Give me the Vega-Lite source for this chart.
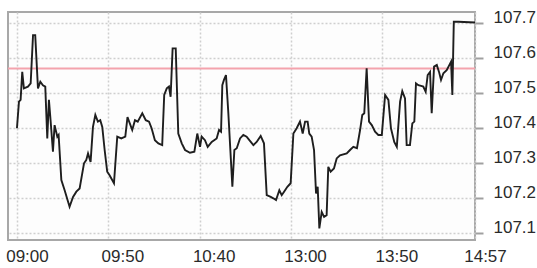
{
  "$schema": "https://vega.github.io/schema/vega-lite/v6.json",
  "width": 467,
  "height": 228,
  "autosize": {"type": "none"},
  "padding": {"left": 8, "top": 12, "right": 62, "bottom": 28},
  "background": "#ffffff",
  "config": {
    "view": {"stroke": "#a8a8a8", "strokeWidth": 2, "fill": "#fdfdfd"},
    "font": "Liberation Sans",
    "axis": {"labelOverlap": false}
  },
  "datasets": {
    "prices": [
      {"m": 0, "price": 107.398}, {"m": 1.1, "price": 107.474}, {"m": 2.0, "price": 107.479}, {"m": 2.9, "price": 107.559},
      {"m": 3.8, "price": 107.512}, {"m": 6.0, "price": 107.517}, {"m": 7.5, "price": 107.526}, {"m": 8.8, "price": 107.664},
      {"m": 10.0, "price": 107.664}, {"m": 11.5, "price": 107.512}, {"m": 12.8, "price": 107.531}, {"m": 14.2, "price": 107.521},
      {"m": 15.5, "price": 107.517}, {"m": 16.6, "price": 107.369}, {"m": 17.5, "price": 107.479}, {"m": 18.4, "price": 107.421},
      {"m": 19.7, "price": 107.331}, {"m": 20.6, "price": 107.407}, {"m": 22.1, "price": 107.374}, {"m": 22.8, "price": 107.379},
      {"m": 24.3, "price": 107.25}, {"m": 26.1, "price": 107.221}, {"m": 28.8, "price": 107.174}, {"m": 30.7, "price": 107.202},
      {"m": 32.5, "price": 107.217}, {"m": 34.3, "price": 107.226}, {"m": 36.7, "price": 107.298}, {"m": 37.9, "price": 107.307},
      {"m": 38.9, "price": 107.326}, {"m": 40.3, "price": 107.302}, {"m": 41.6, "price": 107.402}, {"m": 42.9, "price": 107.436},
      {"m": 44.3, "price": 107.417}, {"m": 45.6, "price": 107.421}, {"m": 46.7, "price": 107.402}, {"m": 48.0, "price": 107.336},
      {"m": 49.4, "price": 107.274}, {"m": 50.7, "price": 107.264}, {"m": 53.1, "price": 107.241}, {"m": 54.9, "price": 107.374},
      {"m": 57.1, "price": 107.369}, {"m": 59.3, "price": 107.374}, {"m": 60.5, "price": 107.43}, {"m": 63.1, "price": 107.393},
      {"m": 64.6, "price": 107.421}, {"m": 66.1, "price": 107.417}, {"m": 68.6, "price": 107.441}, {"m": 70.5, "price": 107.421},
      {"m": 72.3, "price": 107.417}, {"m": 73.7, "price": 107.398}, {"m": 75.5, "price": 107.364}, {"m": 77.4, "price": 107.355},
      {"m": 79.5, "price": 107.35}, {"m": 80.6, "price": 107.493}, {"m": 82.0, "price": 107.512}, {"m": 83.2, "price": 107.517},
      {"m": 84.1, "price": 107.488}, {"m": 85.2, "price": 107.626}, {"m": 86.9, "price": 107.626}, {"m": 88.3, "price": 107.383},
      {"m": 90.2, "price": 107.355}, {"m": 92.0, "price": 107.336}, {"m": 94.7, "price": 107.328}, {"m": 97.1, "price": 107.331},
      {"m": 98.7, "price": 107.383}, {"m": 100.2, "price": 107.345}, {"m": 101.1, "price": 107.374}, {"m": 102.9, "price": 107.364},
      {"m": 104.4, "price": 107.345}, {"m": 106.6, "price": 107.359}, {"m": 109.3, "price": 107.369}, {"m": 110.6, "price": 107.393},
      {"m": 111.7, "price": 107.388}, {"m": 112.4, "price": 107.521}, {"m": 113.3, "price": 107.536}, {"m": 114.4, "price": 107.55},
      {"m": 115.7, "price": 107.441}, {"m": 117.9, "price": 107.231}, {"m": 119.0, "price": 107.336}, {"m": 120.3, "price": 107.341},
      {"m": 122.1, "price": 107.369}, {"m": 123.9, "price": 107.379}, {"m": 125.7, "price": 107.374}, {"m": 127.2, "price": 107.364},
      {"m": 129.4, "price": 107.35}, {"m": 131.2, "price": 107.359}, {"m": 133.4, "price": 107.376}, {"m": 135.2, "price": 107.355},
      {"m": 136.7, "price": 107.207}, {"m": 138.9, "price": 107.202}, {"m": 140.3, "price": 107.198}, {"m": 141.8, "price": 107.193},
      {"m": 143.6, "price": 107.221}, {"m": 144.9, "price": 107.207}, {"m": 146.2, "price": 107.217}, {"m": 148.0, "price": 107.231},
      {"m": 149.8, "price": 107.241}, {"m": 151.3, "price": 107.383}, {"m": 153.1, "price": 107.398}, {"m": 154.9, "price": 107.417},
      {"m": 156.4, "price": 107.383}, {"m": 157.7, "price": 107.417}, {"m": 159.1, "price": 107.417}, {"m": 160.0, "price": 107.383},
      {"m": 161.3, "price": 107.374}, {"m": 162.6, "price": 107.336}, {"m": 163.7, "price": 107.212}, {"m": 164.6, "price": 107.231},
      {"m": 165.5, "price": 107.112}, {"m": 166.8, "price": 107.159}, {"m": 168.1, "price": 107.145}, {"m": 169.5, "price": 107.15},
      {"m": 170.4, "price": 107.288}, {"m": 171.7, "price": 107.274}, {"m": 173.5, "price": 107.283}, {"m": 175.0, "price": 107.312},
      {"m": 176.8, "price": 107.321}, {"m": 180.5, "price": 107.326}, {"m": 182.3, "price": 107.336}, {"m": 184.1, "price": 107.345},
      {"m": 186.1, "price": 107.341}, {"m": 187.8, "price": 107.393}, {"m": 189.0, "price": 107.436}, {"m": 190.1, "price": 107.441},
      {"m": 191.4, "price": 107.569}, {"m": 192.7, "price": 107.417}, {"m": 194.2, "price": 107.407}, {"m": 196.0, "price": 107.388},
      {"m": 197.8, "price": 107.379}, {"m": 199.7, "price": 107.379}, {"m": 201.5, "price": 107.493}, {"m": 203.3, "price": 107.479},
      {"m": 204.7, "price": 107.398}, {"m": 206.5, "price": 107.359}, {"m": 207.9, "price": 107.345}, {"m": 209.7, "price": 107.474},
      {"m": 210.9, "price": 107.504}, {"m": 212.4, "price": 107.483}, {"m": 213.3, "price": 107.35}, {"m": 215.1, "price": 107.35},
      {"m": 216.4, "price": 107.412}, {"m": 217.5, "price": 107.417}, {"m": 218.4, "price": 107.526}, {"m": 219.7, "price": 107.521},
      {"m": 221.2, "price": 107.519}, {"m": 222.4, "price": 107.517}, {"m": 223.7, "price": 107.502}, {"m": 224.8, "price": 107.55},
      {"m": 226.1, "price": 107.559}, {"m": 227.0, "price": 107.441}, {"m": 228.3, "price": 107.574}, {"m": 229.8, "price": 107.579},
      {"m": 231.0, "price": 107.559}, {"m": 232.1, "price": 107.536}, {"m": 233.4, "price": 107.555}, {"m": 235.2, "price": 107.564},
      {"m": 236.7, "price": 107.579}, {"m": 237.6, "price": 107.588}, {"m": 238.3, "price": 107.493}, {"m": 239.1, "price": 107.702},
      {"m": 241.6, "price": 107.702}, {"m": 250.7, "price": 107.70}
    ],
    "reference": [{"price": 107.569}]
  },
  "encoding": {
    "y": {
      "field": "price", "type": "quantitative",
      "scale": {"domain": [107.079, 107.73], "nice": false, "zero": false},
      "axis": {
        "title": null, "orient": "right",
        "values": [107.1, 107.2, 107.3, 107.4, 107.5, 107.6, 107.7],
        "format": ".1f",
        "grid": true, "gridColor": "#cfcfcf", "gridDash": [2, 2], "gridWidth": 1.5,
        "domain": false, "ticks": true, "tickSize": 8, "tickColor": "#a0a0a0", "tickWidth": 2,
        "labelFont": "Liberation Sans", "labelFontSize": 17, "labelColor": "#2a2a2a",
        "labelBaseline": "alphabetic", "labelPadding": 10, "labelFlush": false, "labelOverlap": false, "labelBound": false
      }
    }
  },
  "layer": [
    {
      "data": {"name": "reference"},
      "mark": {"type": "rule", "color": "#f4a3ad", "strokeWidth": 2}
    },
    {
      "data": {"name": "prices"},
      "mark": {"type": "line", "color": "#1e1e1e", "strokeWidth": 1.9, "interpolate": "linear"},
      "encoding": {
        "x": {
          "field": "m", "type": "quantitative",
          "scale": {"domain": [-4.9, 250.7], "nice": false, "zero": false},
          "axis": {
            "title": null,
            "values": [0, 50, 100, 150, 200, 250.7],
            "labelExpr": "datum.value == 0 ? '09:00' : datum.value == 50 ? '09:50' : datum.value == 100 ? '10:40' : datum.value == 150 ? '13:00' : datum.value == 200 ? '13:50' : '14:57'",
            "grid": true, "gridColor": "#cfcfcf", "gridDash": [2, 2], "gridWidth": 1.5,
            "domain": false, "ticks": false,
            "labelFont": "Liberation Sans", "labelFontSize": 17, "labelColor": "#2a2a2a",
            "labelBaseline": "top", "labelPadding": 8, "labelFlush": false, "labelOverlap": false, "labelBound": false,
            "labelOffset": {"condition": {"test": "datum.value == 0 || datum.value > 250", "value": 10}, "value": 14}
          }
        }
      }
    }
  ]
}
